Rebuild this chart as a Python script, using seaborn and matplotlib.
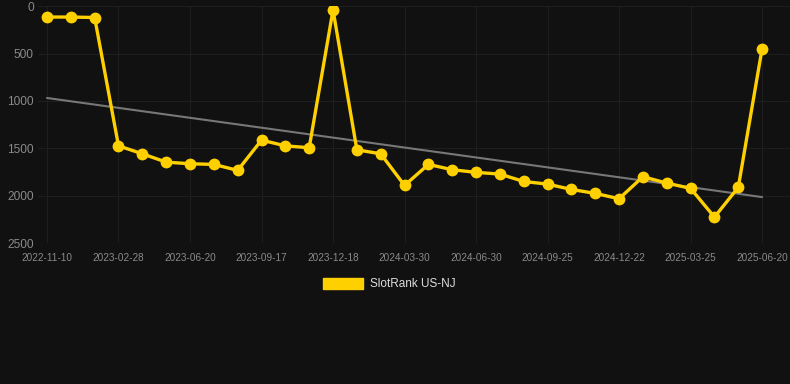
import matplotlib
matplotlib.use("Agg")
import matplotlib.pyplot as plt
from matplotlib.patches import Patch
import numpy as np
import pandas as pd
import seaborn as sns

# ---- data ----
tick_labels = ["2022-11-10", "2023-02-28", "2023-06-20", "2023-09-17", "2023-12-18",
               "2024-03-30", "2024-06-30", "2024-09-25", "2024-12-22", "2025-03-25",
               "2025-06-20"]
rank_values = [115, 115, 120, 1474, 1558, 1646, 1663, 1670, 1733, 1414,
               1474, 1494, 40, 1516, 1558, 1892, 1670, 1726, 1754, 1772,
               1850, 1878, 1934, 1976, 2032, 1800, 1867, 1923, 2226, 1912,
               447]
series_name = "SlotRank US-NJ"

# ---- style ----
BG = "#111111"
GRID = "#1e1e1e"
TXT = "#8a8a8a"
YELLOW = "#FFD000"

sns.set_theme(style="dark")
plt.rcParams["font.family"] = ["Liberation Sans", "DejaVu Sans"]

df = pd.DataFrame({"idx": np.arange(len(rank_values)), "rank": rank_values})

fig = plt.figure(figsize=(7.9, 3.84), dpi=100, facecolor=BG)
ax = fig.add_axes([0.048, 0.367, 0.952, 0.617])
ax.set_facecolor(BG)

sns.regplot(data=df, x="idx", y="rank", scatter=False, ci=None, ax=ax,
            line_kws=dict(color="#777777", lw=1.5, zorder=2))
sns.lineplot(data=df, x="idx", y="rank", ax=ax, color=YELLOW, lw=2.4,
             marker="o", markersize=8.5, markeredgewidth=0, zorder=3)

n = len(rank_values)
ax.set_xlim(-0.38, n - 1 + 1.17)
ax.set_ylim(2500, 0)
ax.set_yticks([0, 500, 1000, 1500, 2000, 2500])
ax.set_yticklabels(["0", "500", "1000", "1500", "2000", "2500"])
ax.set_xticks(np.arange(0, n, 3))
ax.set_xticklabels(tick_labels)
ax.set_xlabel("")
ax.set_ylabel("")

ax.grid(True, color=GRID, lw=0.8)
for s in ax.spines.values():
    s.set_visible(False)
ax.tick_params(axis="x", colors=GRID, labelcolor=TXT, labelsize=7.2, length=5, width=0.8, pad=2)
ax.tick_params(axis="y", colors=GRID, labelcolor=TXT, labelsize=8.6, length=2, width=0.8, pad=1)

handle = Patch(facecolor=YELLOW, edgecolor=YELLOW)
fig.legend([handle], [series_name], loc="center", bbox_to_anchor=(0.493, 0.26),
           frameon=False, fontsize=8.5, labelcolor="#dddddd",
           handlelength=3.4, handleheight=1.0, handletextpad=0.6)

fig.savefig("out.png", dpi=100, facecolor=BG)
